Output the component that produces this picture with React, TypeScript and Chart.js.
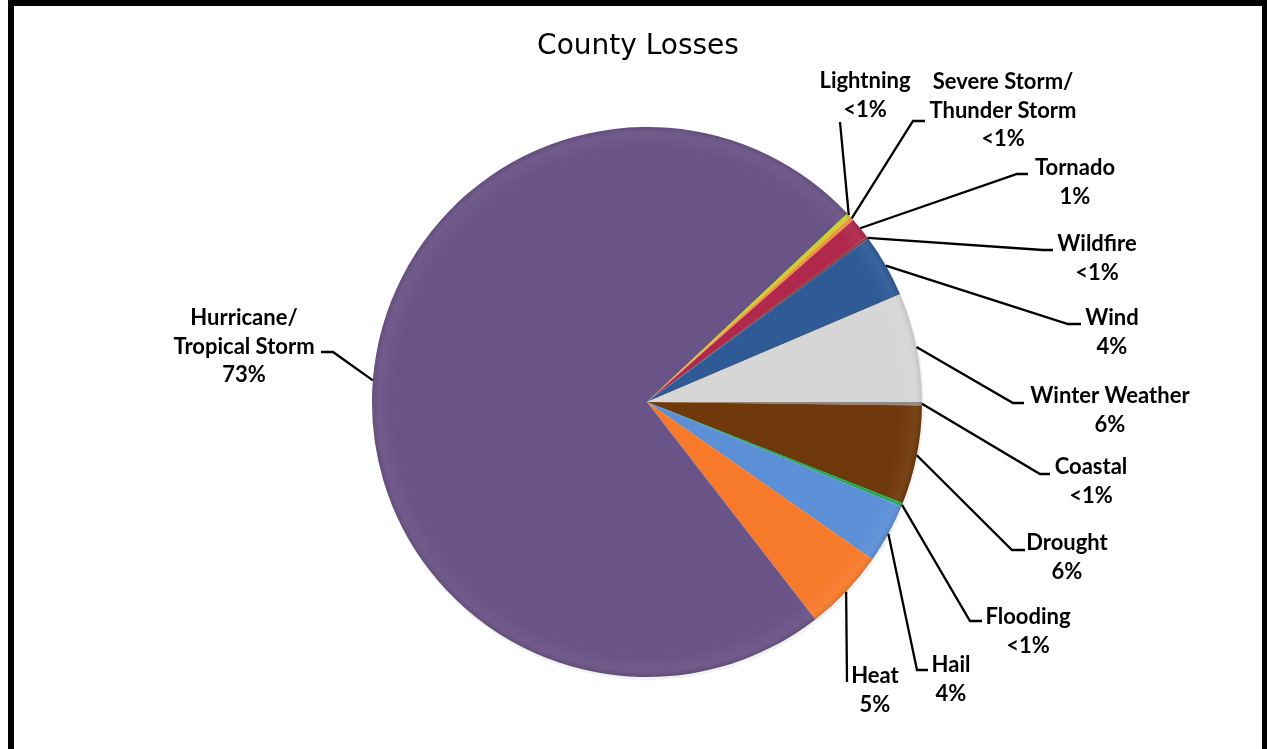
import React, { useEffect, useRef } from "react";
import { Chart, registerables } from "chart.js";

Chart.register(...registerables);

const chartTitle = "County Losses";
const categories = [
  "Coastal",
  "Drought",
  "Flooding",
  "Hail",
  "Heat",
  "Hurricane/Tropical Storm",
  "Lightning",
  "Severe Storm/Thunder Storm",
  "Tornado",
  "Wildfire",
  "Wind",
  "Winter Weather",
];
const lossShares = [0.2, 5.8, 0.2, 3.5, 4.8, 73.4, 0.25, 0.25, 1.25, 0.15, 3.7, 6.4];
const percentLabels = ["<1%", "6%", "<1%", "4%", "5%", "73%", "<1%", "<1%", "1%", "<1%", "4%", "6%"];
const labelLines = [
  ["Coastal"],
  ["Drought"],
  ["Flooding"],
  ["Hail"],
  ["Heat"],
  ["Hurricane/", "Tropical Storm"],
  ["Lightning"],
  ["Severe Storm/", "Thunder Storm"],
  ["Tornado"],
  ["Wildfire"],
  ["Wind"],
  ["Winter Weather"],
];
const sliceColors = [
  "#8a8a8a",
  "#70390b",
  "#1fae4a",
  "#5b8fd6",
  "#f77a2b",
  "#6a5386",
  "#c4d232",
  "#ec9a30",
  "#b0284c",
  "#8e3636",
  "#2e5b96",
  "#d6d6d6",
];
// label placement: text centre x, first-line centre y, elbow point, end of horizontal stub
const labelLayout = [
  { cx: 1091, cy: 467, ex: 1040, ey: 474, hx: 1050 },
  { cx: 1067, cy: 543, ex: 1012, ey: 550, hx: 1025 },
  { cx: 1028, cy: 617, ex: 970, ey: 621, hx: 982 },
  { cx: 951, cy: 665, ex: 917, ey: 670, hx: 928 },
  { cx: 875, cy: 676, ex: 847, ey: 682, hx: 847 },
  { cx: 244, cy: 318, ex: 333, ey: 352, hx: 321 },
  { cx: 865, cy: 81, ex: 840, ey: 122, hx: 840 },
  { cx: 1003, cy: 82, ex: 913, ey: 121, hx: 925 },
  { cx: 1075, cy: 168, ex: 1017, ey: 174, hx: 1028 },
  { cx: 1097, cy: 244, ex: 1043, ey: 250, hx: 1053 },
  { cx: 1112, cy: 318, ex: 1068, ey: 324, hx: 1081 },
  { cx: 1110, cy: 396, ex: 1013, ey: 403, hx: 1024 },
];

const W = 1267;
const H = 749;

const labelPlugin = {
  id: "calloutLabels",
  afterDatasetsDraw(chart: any) {
    const ctx = chart.ctx as CanvasRenderingContext2D;
    const meta = chart.getDatasetMeta(0);
    ctx.save();
    // title
    ctx.fillStyle = "#000";
    ctx.font = "28px 'DejaVu Sans'";
    ctx.textAlign = "center";
    ctx.textBaseline = "alphabetic";
    ctx.fillText(chartTitle, 638, 54);

    ctx.strokeStyle = "#000";
    ctx.lineWidth = 2.3;
    ctx.font = "bold 22px Lato";
    ctx.textBaseline = "middle";
    meta.data.forEach((arc: any, i: number) => {
      const p = arc.getProps(["x", "y", "startAngle", "endAngle", "outerRadius"], true);
      const mid = (p.startAngle + p.endAngle) / 2;
      const sx = p.x + Math.cos(mid) * p.outerRadius;
      const sy = p.y + Math.sin(mid) * p.outerRadius;
      const L = labelLayout[i];
      ctx.beginPath();
      ctx.moveTo(sx, sy);
      ctx.lineTo(L.ex, L.ey);
      ctx.lineTo(L.hx, L.ey);
      ctx.stroke();
      const lines = [...labelLines[i], percentLabels[i]];
      lines.forEach((t, k) => {
        ctx.fillText(t, L.cx, L.cy + k * 28.5);
      });
    });
    ctx.restore();
  },
};

const bevelPlugin = {
  id: "bevel",
  beforeDatasetsDraw(chart: any) {
    const ctx = chart.ctx as CanvasRenderingContext2D;
    const meta = chart.getDatasetMeta(0);
    const a = meta.data[0];
    if (!a) return;
    const p = a.getProps(["x", "y", "outerRadius"], true);
    ctx.save();
    ctx.beginPath();
    ctx.arc(p.x + 1, p.y + 2, p.outerRadius + 1, 0, Math.PI * 2);
    ctx.fillStyle = "rgba(0,0,0,0.05)";
    ctx.fill();
    ctx.restore();
  },
  afterDatasetsDraw(chart: any) {
    const ctx = chart.ctx as CanvasRenderingContext2D;
    const meta = chart.getDatasetMeta(0);
    const a = meta.data[0];
    if (!a) return;
    const p = a.getProps(["x", "y", "outerRadius"], true);
    const g = ctx.createRadialGradient(p.x, p.y, p.outerRadius * 0.92, p.x, p.y, p.outerRadius);
    g.addColorStop(0, "rgba(255,255,255,0)");
    g.addColorStop(0.7, "rgba(255,255,255,0.05)");
    g.addColorStop(1, "rgba(0,0,0,0.08)");
    ctx.save();
    ctx.beginPath();
    ctx.arc(p.x, p.y, p.outerRadius, 0, Math.PI * 2);
    ctx.fillStyle = g;
    ctx.fill();
    ctx.restore();
  },
};

export default function App() {
  const ref = useRef<HTMLCanvasElement | null>(null);
  useEffect(() => {
    if (!ref.current) return;
    const chart = new Chart(ref.current, {
      type: "pie",
      data: {
        labels: categories,
        datasets: [
          {
            data: lossShares,
            backgroundColor: sliceColors,
            borderWidth: 0,
            hoverOffset: 0,
          },
        ],
      },
      options: {
        responsive: false,
        animation: false,
        devicePixelRatio: 1,
        rotation: 90,
        layout: { padding: { left: 372, right: 345, top: 127, bottom: 72 } },
        plugins: {
          legend: { display: false },
          tooltip: { enabled: false },
          title: { display: false },
        },
      },
      plugins: [bevelPlugin, labelPlugin],
    });
    return () => chart.destroy();
  }, []);

  return (
    <div style={{ position: "absolute", left: 0, top: 0, width: W, height: H, overflow: "hidden", background: "#fff" }}>
      <div
        style={{
          position: "absolute",
          left: 8,
          top: 0,
          width: W - 8,
          height: H + 20,
          boxSizing: "border-box",
          borderLeft: "6px solid #000",
          borderTop: "6px solid #000",
          borderRight: "5px solid #000",
          borderBottom: "6px solid #000",
        }}
      />
      <canvas ref={ref} width={W} height={H} style={{ position: "absolute", left: 0, top: 0, width: W, height: H }} />
    </div>
  );
}
